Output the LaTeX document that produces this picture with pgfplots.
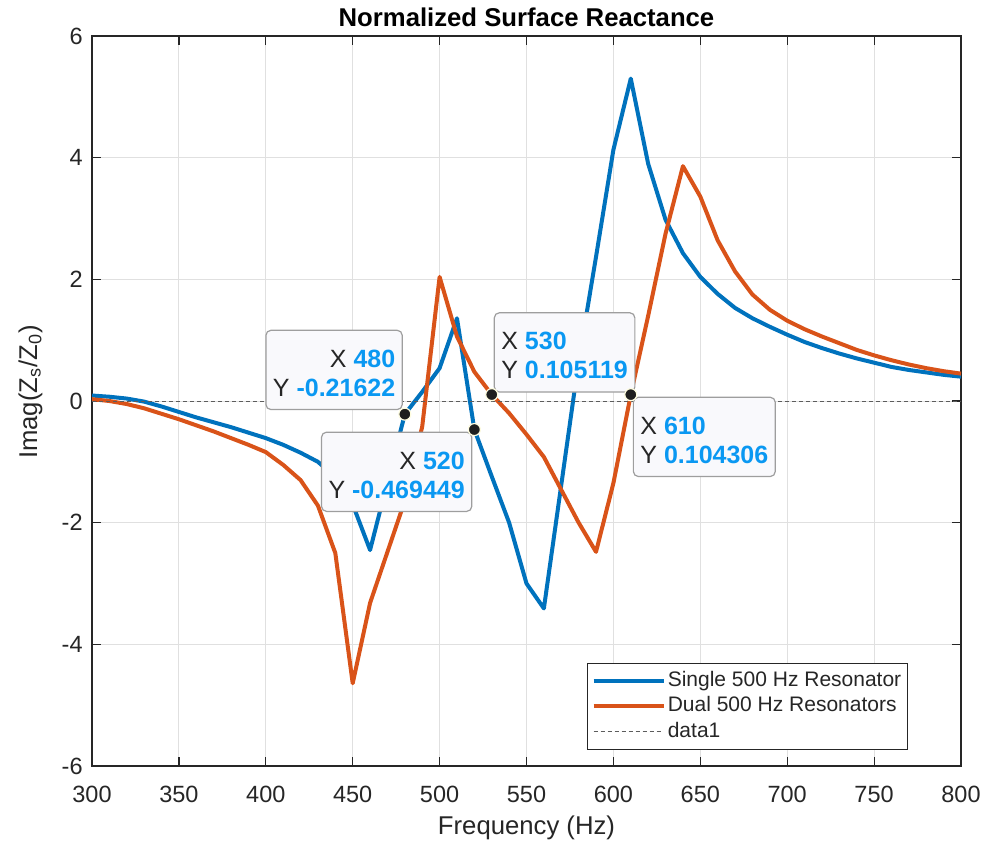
\documentclass[border=0pt]{standalone}
\usepackage{fontspec}
\setmainfont{Liberation Sans}
\usepackage{pgfplots}
\pgfplotsset{compat=1.18}
\definecolor{mblue}{HTML}{0072BD}
\definecolor{morange}{HTML}{D95319}
\definecolor{axgray}{HTML}{262626}
\definecolor{tipblue}{HTML}{0A98F2}
\definecolor{tipfill}{HTML}{F9F9FC}
\pgfplotstableread{
f v
300 0.09
310 0.07
320 0.04
330 -0.01
340 -0.09
350 -0.18
360 -0.27
370 -0.35
380 -0.43
390 -0.52
400 -0.61
410 -0.72
420 -0.85
430 -1.0
440 -1.25
450 -1.7
460 -2.45
470 -1.33
480 -0.21622
490 0.15
500 0.54
510 1.36
520 -0.469449
530 -1.24
540 -2.0
550 -3.0
560 -3.41
570 -1.38
580 0.65
590 2.37
600 4.13
610 5.3
620 3.9
630 2.98
640 2.43
650 2.04
660 1.76
670 1.53
680 1.36
690 1.22
700 1.09
710 0.97
720 0.87
730 0.78
740 0.70
750 0.63
760 0.56
770 0.51
780 0.47
790 0.43
800 0.40
}\single
\pgfplotstableread{
f v
300 0.03
310 0.0
320 -0.05
330 -0.12
340 -0.21
350 -0.30
360 -0.40
370 -0.50
380 -0.61
390 -0.72
400 -0.84
410 -1.05
420 -1.3
430 -1.72
440 -2.5
450 -4.64
460 -3.32
470 -2.48
480 -1.64
490 -0.42
500 2.04
510 1.06
520 0.48
530 0.105119
540 -0.2
550 -0.55
560 -0.92
570 -1.46
580 -2.0
590 -2.48
600 -1.35
610 0.104306
620 1.4
630 2.75
640 3.86
650 3.36
660 2.64
670 2.13
680 1.75
690 1.50
700 1.32
710 1.18
720 1.06
730 0.95
740 0.84
750 0.75
760 0.67
770 0.60
780 0.54
790 0.49
800 0.45
}\dual
\tikzset{tipbox/.style={draw=black!38, fill=tipfill, rounded corners=2.5pt, line width=0.6pt,
  font=\fontsize{12.5}{14.5}\selectfont, inner xsep=3.5pt, inner ysep=6.5pt}}
\newcommand{\tipX}[1]{{\color{axgray}X} {\color{tipblue}\bfseries #1}}
\newcommand{\tipY}[1]{{\color{axgray}Y} {\color{tipblue}\bfseries #1}}
\begin{document}
\begin{tikzpicture}
\useasboundingbox (0,0) rectangle (492pt,421pt);
\begin{axis}[
  at={(46pt,38pt)}, anchor=south west,
  width=434.5pt, height=365pt, scale only axis,
  xmin=300, xmax=800, ymin=-6, ymax=6,
  xtick={300,350,...,800}, ytick={-6,-4,...,6},
  grid=major, major grid style={draw=black!12, line width=0.5pt},
  axis line style={draw=axgray, line width=0.6pt},
  tick style={draw=axgray, line width=0.6pt},
  major tick length=4.3pt, tick align=inside,
  /pgf/number format/assume math mode=true,
  ticklabel style={font=\fontsize{11.75}{13}\selectfont, text=axgray},
  xticklabel style={anchor=base, yshift=-18pt},
  yticklabel style={anchor=east, inner sep=0pt, xshift=-4.5pt},
  xlabel={Frequency (Hz)},
  xlabel style={at={(axis description cs:0.5,0)}, anchor=base, yshift=-34.2pt,
    font=\fontsize{12.85}{15}\selectfont, text=axgray},
  legend style={at={(0.939,0.0219)}, anchor=south east, draw=axgray, line width=0.5pt,
    fill=white, font=\fontsize{10.5}{12}\selectfont, text=axgray,
    inner xsep=2pt, inner ysep=2.5pt, row sep=0pt,
    nodes={inner sep=1.1pt, text height=8pt, text depth=2.5pt}},
  legend cell align=left,
  legend image code/.code={\draw[#1] (0pt,0pt) -- (35pt,0pt);},
]
\addplot[mblue, line width=2pt, line join=round] table[x=f, y=v] {\single};
\addlegendentry{Single 500 Hz Resonator}
\addplot[morange, line width=2pt, line join=round] table[x=f, y=v] {\dual};
\addlegendentry{Dual 500 Hz Resonators}
\addplot[axgray!75, line width=0.5pt, dash pattern=on 2pt off 1.5pt] coordinates {(300,0) (800,0)};
\addlegendentry{data1}

\node[tipbox, anchor=south east, align=right, xshift=-1pt, yshift=2pt] at (axis cs:480,-0.21622)
  {\rule{0pt}{12pt}\tipX{480}\\\tipY{-0.21622}};
\node[tipbox, anchor=north east, align=right, xshift=-1pt, yshift=-1pt] at (axis cs:520,-0.469449)
  {\rule{0pt}{12pt}\tipX{520}\\\tipY{-0.469449}};
\node[tipbox, anchor=south west, align=left, xshift=1pt, yshift=1pt] at (axis cs:530,0.105119)
  {\rule{0pt}{12pt}\tipX{530}\\\tipY{0.105119}};
\node[tipbox, anchor=north west, align=left, xshift=1pt, yshift=-1pt] at (axis cs:610,0.104306)
  {\rule{0pt}{12pt}\tipX{610}\\\tipY{0.104306}};

\addplot[only marks, mark=*, mark size=3pt, forget plot,
  mark options={fill=black!88, draw=yellow!12!white, line width=0.6pt}]
  coordinates {(480,-0.21622) (520,-0.469449) (530,0.105119) (610,0.104306)};
\end{axis}
\node[anchor=base, font=\bfseries\fontsize{12.85}{15}\selectfont, text=black]
  at (263.25pt,407.5pt) {Normalized Surface Reactance};
\node[rotate=90, anchor=base, font=\fontsize{12.85}{15}\selectfont, text=axgray]
  at (18.5pt,225pt) {Imag(Z\textsubscript{s}/Z\textsubscript{0})};
\end{tikzpicture}
\end{document}
